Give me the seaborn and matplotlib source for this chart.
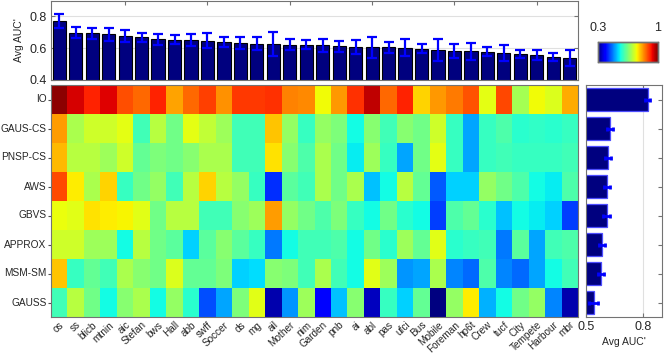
import numpy as np
import pandas as pd
import matplotlib
matplotlib.use("Agg")
import matplotlib.pyplot as plt
import matplotlib.transforms as mtransforms
import seaborn as sns

videos = ["os", "ss", "blicb", "mtnin", "aic", "Stefan", "bws", "Hall", "abb", "swff",
          "Soccer", "ds", "mg", "ail", "Mother", "nim", "Garden", "pnb", "ai", "abl",
          "pas", "ufci", "Bus", "Mobile", "Foreman", "hp6t", "Crew", "tucf", "City",
          "Tempete", "Harbour", "mbr"]
methods = ["IO", "GAUS-CS", "PNSP-CS", "AWS", "GBVS", "APPROX", "MSM-SM", "GAUSS"]

video_auc = [0.771, 0.698, 0.694, 0.688, 0.677, 0.669, 0.656, 0.654, 0.652, 0.648,
             0.640, 0.633, 0.629, 0.625, 0.623, 0.621, 0.617, 0.613, 0.608, 0.606,
             0.606, 0.604, 0.598, 0.588, 0.583, 0.581, 0.577, 0.569, 0.563, 0.556,
             0.546, 0.538]
video_err = [0.045, 0.036, 0.033, 0.040, 0.036, 0.028, 0.036, 0.026, 0.036, 0.049,
             0.030, 0.036, 0.042, 0.074, 0.035, 0.029, 0.038, 0.034, 0.045, 0.065,
             0.036, 0.053, 0.028, 0.069, 0.044, 0.054, 0.029, 0.049, 0.027, 0.031,
             0.026, 0.052]

method_auc = [0.826, 0.626, 0.616, 0.610, 0.608, 0.584, 0.579, 0.540]
method_err = [0.013, 0.015, 0.015, 0.016, 0.017, 0.014, 0.016, 0.025]

auc_io = [0.99, 0.947, 0.91, 0.94, 0.877, 0.86, 0.91, 0.815, 0.86, 0.89,
          0.83, 0.895, 0.895, 0.90, 0.84, 0.835, 0.75, 0.825, 0.90, 0.96,
          0.86, 0.91, 0.78, 0.825, 0.845, 0.875, 0.74, 0.885, 0.685, 0.75,
          0.73, 0.81]
auc_gaus_cs = [0.82, 0.69, 0.72, 0.72, 0.74, 0.60, 0.70, 0.64, 0.74, 0.71,
               0.68, 0.60, 0.60, 0.79, 0.67, 0.59, 0.67, 0.65, 0.56, 0.66,
               0.60, 0.66, 0.64, 0.72, 0.59, 0.50, 0.59, 0.61, 0.58, 0.585,
               0.58, 0.59]
auc_pnsp_cs = [0.80, 0.70, 0.70, 0.68, 0.72, 0.63, 0.65, 0.64, 0.66, 0.69,
               0.69, 0.60, 0.60, 0.77, 0.66, 0.61, 0.69, 0.64, 0.55, 0.68,
               0.59, 0.50, 0.64, 0.74, 0.59, 0.50, 0.59, 0.60, 0.59, 0.59,
               0.59, 0.60]
auc_aws = [0.88, 0.76, 0.69, 0.78, 0.59, 0.64, 0.67, 0.60, 0.70, 0.78,
           0.70, 0.67, 0.59, 0.42, 0.62, 0.60, 0.69, 0.64, 0.69, 0.52,
           0.56, 0.70, 0.63, 0.45, 0.53, 0.53, 0.67, 0.64, 0.61, 0.56,
           0.55, 0.61]
auc_gbvs = [0.745, 0.735, 0.77, 0.76, 0.755, 0.735, 0.64, 0.70, 0.70, 0.60,
            0.60, 0.66, 0.68, 0.82, 0.67, 0.64, 0.61, 0.65, 0.59, 0.56,
            0.64, 0.58, 0.56, 0.43, 0.61, 0.63, 0.58, 0.52, 0.56, 0.55,
            0.53, 0.43]
auc_approx = [0.72, 0.72, 0.68, 0.68, 0.56, 0.70, 0.64, 0.62, 0.53, 0.62,
              0.66, 0.62, 0.59, 0.47, 0.56, 0.60, 0.60, 0.61, 0.56, 0.64,
              0.58, 0.68, 0.63, 0.735, 0.58, 0.59, 0.60, 0.47, 0.62, 0.50,
              0.60, 0.61]
auc_msm_sm = [0.79, 0.59, 0.63, 0.60, 0.69, 0.66, 0.64, 0.73, 0.63, 0.63,
              0.65, 0.53, 0.54, 0.66, 0.65, 0.60, 0.69, 0.60, 0.56, 0.735,
              0.68, 0.49, 0.50, 0.69, 0.48, 0.46, 0.61, 0.48, 0.46, 0.50,
              0.56, 0.60]
auc_gauss = [0.60, 0.70, 0.64, 0.56, 0.66, 0.69, 0.56, 0.67, 0.58, 0.44,
             0.50, 0.65, 0.735, 0.33, 0.49, 0.68, 0.39, 0.52, 0.66, 0.34,
             0.59, 0.53, 0.63, 0.30, 0.67, 0.76, 0.51, 0.56, 0.64, 0.67,
             0.48, 0.33]

sns.set_style("white")
plt.rcParams["font.family"] = ["Liberation Sans", "DejaVu Sans"]

grid = pd.DataFrame([auc_io, auc_gaus_cs, auc_pnsp_cs, auc_aws, auc_gbvs,
                     auc_approx, auc_msm_sm, auc_gauss], index=methods, columns=videos)

W, H = 664, 356
fig = plt.figure(figsize=(W / 100, H / 100), dpi=100)

def box(x0, y0, x1, y1):
    return [x0 / W, 1 - y1 / H, (x1 - x0) / W, (y1 - y0) / H]

ax_top = fig.add_axes(box(51, 0.5, 578, 80))
ax_hm = fig.add_axes(box(51, 85, 578, 317))
ax_r = fig.add_axes(box(586, 85, 662, 317))
cax = fig.add_axes(box(598, 42, 658, 62))

spine_c = "0.45"
navy = "#00007F"
blue = "#0000FF"

# --- top bar chart
ax_top.set_axisbelow(True)
ax_top.grid(axis="y", color="0.88", lw=0.8)
sns.barplot(x=videos, y=video_auc, color=navy, saturation=1, width=0.8,
            edgecolor="black", linewidth=0.8, errorbar=None, ax=ax_top)
ax_top.errorbar(np.arange(len(videos)), video_auc, yerr=video_err, fmt="none",
                ecolor=blue, elinewidth=1.6, capsize=3.5, capthick=1.6, zorder=5)
ax_top.set_xlim(-0.5, len(videos) - 0.5)
ax_top.set_ylim(0.4, 0.9)
ax_top.set_yticks([0.4, 0.6, 0.8])
ax_top.set_yticklabels(["0.4", "0.6", "0.8"], fontsize=9)
ax_top.set_xticks([4, 9, 14, 19, 24, 29])
ax_top.set_xticklabels([])
ax_top.tick_params(axis="x", direction="in", top=True, bottom=False, length=3, color=spine_c)
ax_top.tick_params(axis="y", direction="in", left=True, right=True, length=3, color=spine_c, pad=3)
ax_top.set_xlabel("")
ax_top.set_ylabel("Avg AUC'", fontsize=7.5, labelpad=4)
for s in ax_top.spines.values():
    s.set_color(spine_c)
    s.set_linewidth(0.8)

# --- heatmap
sns.heatmap(grid, cmap="jet", vmin=0.3, vmax=1.0, ax=ax_hm, cbar_ax=cax,
            cbar_kws={"orientation": "horizontal"}, linewidths=0)
ax_hm.set_xticks(np.arange(len(videos)) + 0.5)
ax_hm.set_xticklabels(videos, rotation=43, ha="right", rotation_mode="anchor", fontsize=7.2)
shift = mtransforms.ScaledTranslation(5 / 100, 0, fig.dpi_scale_trans)
for lab in ax_hm.get_xticklabels():
    lab.set_transform(lab.get_transform() + shift)
ax_hm.set_xticks(np.array([4, 9, 14, 19, 24, 29]) + 0.5, minor=True)
ax_hm.tick_params(axis="x", which="major", length=0, pad=2)
ax_hm.tick_params(axis="x", which="minor", direction="in", top=True, bottom=True,
                  length=3, color="0.3")
ax_hm.set_yticks(np.arange(len(methods)) + 0.5)
ax_hm.set_yticklabels(methods, rotation=0, fontsize=7.3)
ax_hm.yaxis.remove_overlapping_locs = False
ax_hm.set_yticks(np.arange(len(methods)) + 0.5, minor=True)
ax_hm.tick_params(axis="y", which="major", left=True, right=False, direction="out",
                  length=2.2, color="0.3", pad=1)
ax_hm.tick_params(axis="y", which="minor", left=False, right=True, direction="in",
                  length=3, color="0.3")
ax_hm.set_xlabel("")
ax_hm.set_ylabel("")
for s in ax_hm.spines.values():
    s.set_visible(True)
    s.set_color(spine_c)
    s.set_linewidth(0.8)

# --- colorbar
cax.xaxis.set_ticks_position("top")
cax.set_xticks([0.3, 1.0])
cax.set_xticklabels(["0.3", "1"], fontsize=9)
cax.tick_params(axis="x", length=0, pad=6)
for s in cax.spines.values():
    s.set_visible(True)
    s.set_color("0.45")
    s.set_linewidth(1.0)

# --- right bar chart
ax_r.set_axisbelow(True)
ax_r.grid(axis="x", color="0.88", lw=0.8)
sns.barplot(x=method_auc, y=methods, orient="h", color=navy, saturation=1, width=0.82,
            edgecolor="#4D4DFF", linewidth=0.9, errorbar=None, ax=ax_r)
ax_r.errorbar(method_auc, np.arange(len(methods)), xerr=method_err, fmt="none",
              ecolor=blue, elinewidth=2.0, capsize=1.5, capthick=2.0, zorder=5)
ax_r.set_xlim(0.5, 0.9)
ax_r.set_ylim(len(methods) - 0.5, -0.5)
ax_r.set_xticks([0.5, 0.8])
ax_r.set_xticklabels(["0.5", "0.8"], fontsize=9)
ax_r.set_yticks(np.arange(len(methods)))
ax_r.set_yticklabels([])
ax_r.tick_params(axis="y", left=False, right=True, direction="in", length=3, color=spine_c)
ax_r.tick_params(axis="x", direction="in", bottom=True, top=True, length=3, color=spine_c, pad=3)
ax_r.set_ylabel("")
ax_r.set_xlabel("Avg AUC'", fontsize=7.5, labelpad=3)
for s in ax_r.spines.values():
    s.set_color(spine_c)
    s.set_linewidth(0.8)

fig.savefig("out.png", dpi=100)
